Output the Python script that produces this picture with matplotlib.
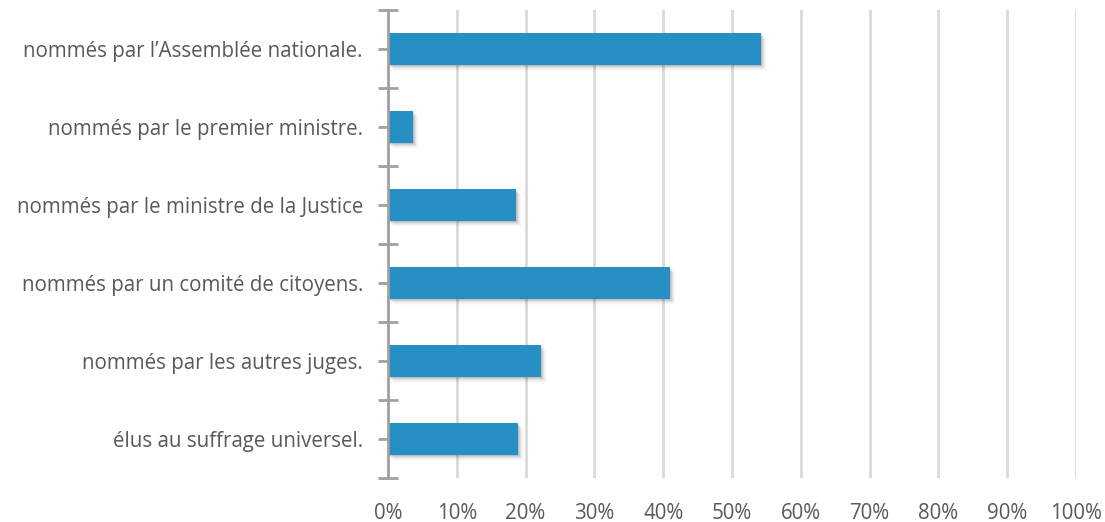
import matplotlib
matplotlib.use("Agg")
import matplotlib.pyplot as plt
import matplotlib.transforms as mtransforms
from matplotlib.ticker import FixedLocator, PercentFormatter

categories = [
    "nommés par l\u2019Assemblée nationale.",
    "nommés par le premier ministre.",
    "nommés par le ministre de la Justice",
    "nommés par un comité de citoyens.",
    "nommés par les autres juges.",
    "élus au suffrage universel.",
]
values = [54.2, 3.6, 18.6, 41.0, 22.2, 18.9]
xticks = [0, 10, 20, 30, 40, 50, 60, 70, 80, 90, 100]

plt.rcParams['font.family'] = ['Open Sans', 'DejaVu Sans']
text_color = '#595959'
bar_color = '#2690C4'
axis_color = '#A0A0A0'
grid_color = '#D9D9D9'

fig = plt.figure(figsize=(11.05, 5.22), dpi=100)
ax = fig.add_axes([388/1105, 1 - 478/522, (1076 - 388)/1105, 468/522])

n = len(categories)
pos = list(range(n))
bh = 0.41

# soft shadow
for dx, dy, a in [(1, -1, 0.09), (2, -2, 0.07), (3, -3, 0.05), (4, -4, 0.035), (5, -5, 0.02), (6, -6, 0.01)]:
    off = mtransforms.offset_copy(ax.transData, fig=fig, x=dx, y=dy, units='dots')
    ax.barh(pos, values, height=bh, color='black', alpha=a, transform=off, zorder=2, linewidth=0)

ax.barh(pos, values, height=bh, color=bar_color, zorder=3, linewidth=0)

ax.set_xlim(0, 100)
ax.set_ylim(n - 0.5, -0.5)
ax.xaxis.set_major_locator(FixedLocator(xticks))
ax.xaxis.set_major_formatter(PercentFormatter(decimals=0))
ax.tick_params(axis='x', length=0, labelsize=14.8, labelcolor=text_color, pad=18)
ax.grid(axis='x', color=grid_color, linewidth=2, zorder=0)

ax.set_yticks([p - 0.5 for p in pos] + [n - 0.5])
ax.set_yticklabels([])
ax.set_yticks(pos, minor=True)
ax.set_yticklabels(categories, minor=True)
ax.tick_params(axis='y', which='both', direction='inout', length=14, width=2, color=axis_color)
ax.tick_params(axis='y', which='minor', labelsize=14.8, labelcolor=text_color, pad=11)

for s in ['top', 'right', 'bottom']:
    ax.spines[s].set_visible(False)
ax.spines['left'].set_color(axis_color)
ax.spines['left'].set_linewidth(2)
ax.spines['left'].set_zorder(5)

fig.savefig("out.png", dpi=100)
